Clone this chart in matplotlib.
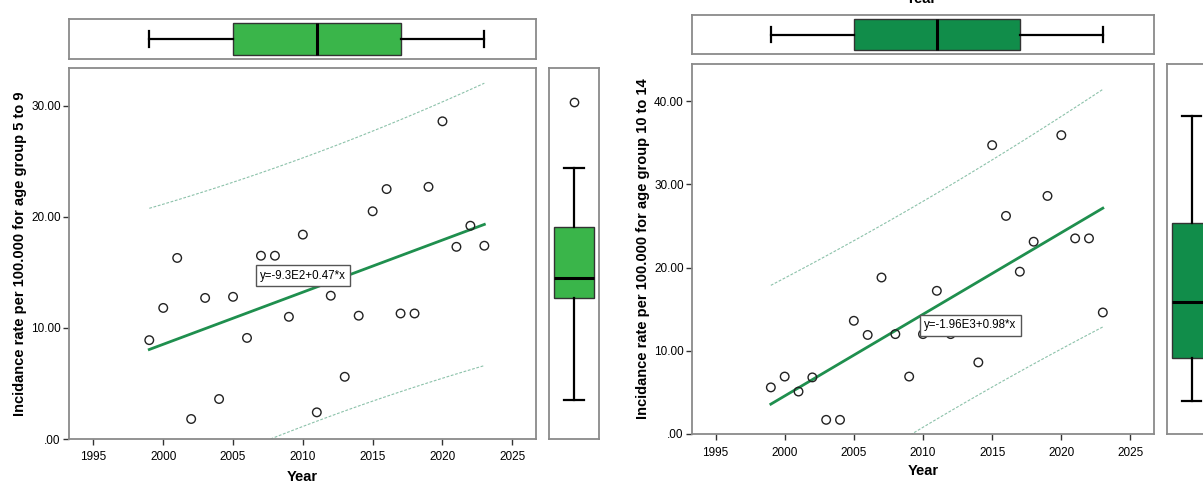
import numpy as np
import matplotlib
matplotlib.use('Agg')
import matplotlib.pyplot as plt
from matplotlib.ticker import FuncFormatter

plt.rcParams['font.family'] = ['Liberation Sans', 'DejaVu Sans']

# data
YEARS = [1999, 2000, 2001, 2002, 2003, 2004, 2005, 2006, 2007, 2008, 2009, 2010,
         2011, 2012, 2013, 2014, 2015, 2016, 2017, 2018, 2019, 2020, 2021, 2022, 2023]
RATE_5_9 = [8.9, 11.8, 16.3, 1.8, 12.7, 3.6, 12.8, 9.1, 16.5, 16.5, 11.0, 18.4,
            2.4, 12.9, 5.6, 11.1, 20.5, 22.5, 11.3, 11.3, 22.7, 28.6, 17.3, 19.2, 17.4]
RATE_10_14 = [5.6, 6.9, 5.1, 6.8, 1.7, 1.7, 13.6, 11.9, 18.8, 12.0, 6.9, 12.0,
              17.2, 12.0, 13.6, 8.6, 34.7, 26.2, 19.5, 23.1, 28.6, 35.9, 23.5, 23.5, 14.6]
YLABELS = ['Incidance rate per 100.000 for age group 5 to 9',
           'Incidance rate per 100.000 for age group 10 to 14']
EQUATIONS = ['y=-9.3E2+0.47*x', 'y=-1.96E3+0.98*x']
X_TICKS = [1995, 2000, 2005, 2010, 2015, 2020, 2025]
Y_TICKS = [[0, 10, 20, 30], [0, 10, 20, 30, 40]]

FIG_W, FIG_H = 1203, 483
SPINE = '#8a8a8a'
LINE_GREEN = '#1f8f4e'
PI_COLOR = '#8cc2aa'
BOX_COLORS = ['#3ab54a', '#118d4a']


def px_rect(x0, y0, x1, y1):
    """pixel box (top-left origin) -> figure fraction rect"""
    return [x0 / FIG_W, 1 - y1 / FIG_H, (x1 - x0) / FIG_W, (y1 - y0) / FIG_H]


def frame(ax):
    for s in ax.spines.values():
        s.set_color(SPINE)
        s.set_linewidth(1.3)


def ytick_fmt(v, pos):
    s = f'{v:.2f}'
    return s[1:] if s.startswith('0') else s


def boxprops(color):
    return dict(
        patch_artist=True, widths=0.8, capwidths=0.4, whis=1.5,
        boxprops=dict(facecolor=color, edgecolor='#333333', linewidth=1),
        medianprops=dict(color='black', linewidth=2.2),
        whiskerprops=dict(color='black', linewidth=1.6),
        capprops=dict(color='black', linewidth=1.6),
        flierprops=dict(marker='o', markerfacecolor='none',
                        markeredgecolor='#222222', markersize=6, markeredgewidth=1),
    )


def draw_panel(fig, rates, ylabel, eq, eq_pos, yticks, xlim, ylim, boxes, color,
               ylab_x, xlab_gap):
    top_px, main_px, side_px = boxes
    ax = fig.add_axes(px_rect(*main_px))
    ax_top = fig.add_axes(px_rect(*top_px))
    ax_side = fig.add_axes(px_rect(*side_px))
    h_px = main_px[3] - main_px[1]

    x = np.array(YEARS, dtype=float)
    y = np.array(rates, dtype=float)
    slope, icpt = np.polyfit(x, y, 1)
    n = len(x)
    resid = y - (icpt + slope * x)
    s = np.sqrt(np.sum(resid ** 2) / (n - 2))
    sxx = np.sum((x - x.mean()) ** 2)
    t = 2.0687  # t(0.975, df=23)
    xx = np.linspace(x.min(), x.max(), 100)
    fit = icpt + slope * xx
    half = t * s * np.sqrt(1 + 1 / n + (xx - x.mean()) ** 2 / sxx)

    ax.plot(xx, fit + half, ls=(0, (2.5, 1.5)), color=PI_COLOR, lw=0.8, zorder=2)
    ax.plot(xx, fit - half, ls=(0, (2.5, 1.5)), color=PI_COLOR, lw=0.8, zorder=2)
    ax.plot(xx, fit, color=LINE_GREEN, lw=2, zorder=3)
    ax.scatter(x, y, s=38, facecolors='none', edgecolors='#222222', linewidths=1, zorder=4)
    ax.text(eq_pos[0], eq_pos[1], eq, ha='center', va='center', fontsize=8.3, zorder=6,
            bbox=dict(boxstyle='square,pad=0.38', facecolor='white', edgecolor='#555555', lw=1))

    ax.set_xlim(*xlim)
    ax.set_ylim(*ylim)
    ax.set_xticks(X_TICKS)
    ax.set_yticks(yticks)
    ax.yaxis.set_major_formatter(FuncFormatter(ytick_fmt))
    ax.tick_params(labelsize=8.5, length=4, width=1, color='#333333')
    ax.tick_params(axis='x', pad=5)
    ax.tick_params(axis='y', pad=2)
    frame(ax)
    ax.set_xlabel('Year', fontsize=10.5, fontweight='bold')
    ax.xaxis.label.set_va('baseline')
    ax.xaxis.set_label_coords(0.5, -xlab_gap / h_px)
    fig.text(ylab_x / FIG_W, 1 - (main_px[1] + main_px[3]) / 2 / FIG_H, ylabel,
             rotation=90, ha='center', va='center', fontsize=10.5, fontweight='bold')

    # marginal box for years
    ax_top.boxplot(x, orientation='horizontal', positions=[0], **boxprops(color))
    ax_top.set_xlim(*xlim)
    ax_top.set_ylim(-0.5, 0.5)
    ax_top.set_xticks([])
    ax_top.set_yticks([])
    frame(ax_top)

    # marginal box for rates (drawn ~19 px higher than the main scale, as in the source)
    ax_side.boxplot(y, orientation='vertical', positions=[0], **boxprops(color))
    shift = 19 * (ylim[1] - ylim[0]) / h_px
    ax_side.set_ylim(ylim[0] - shift, ylim[1] - shift)
    ax_side.set_xlim(-0.5, 0.5)
    ax_side.set_xticks([])
    ax_side.set_yticks([])
    frame(ax_side)


fig = plt.figure(figsize=(FIG_W / 100, FIG_H / 100), dpi=100)

draw_panel(fig, RATE_5_9, YLABELS[0], EQUATIONS[0], (2010.0, 14.7), Y_TICKS[0],
           (1993.25, 2026.7), (0, 33.4),
           ((69, 19, 536, 59), (69, 68, 536, 439), (549, 68, 599, 439)),
           BOX_COLORS[0], 20, 42)
draw_panel(fig, RATE_10_14, YLABELS[1], EQUATIONS[1], (2013.4, 13.07), Y_TICKS[1],
           (1993.3, 2026.7), (0, 44.45),
           ((692, 15, 1154, 54), (692, 64, 1154, 434), (1167, 64, 1216, 434)),
           BOX_COLORS[1], 643, 41)

# title of a panel above, cut by the crop
fig.text(921 / FIG_W, 1 - 3 / FIG_H, 'Year', ha='center', va='baseline',
         fontsize=10.5, fontweight='bold')

fig.savefig('out.png', dpi=100)
